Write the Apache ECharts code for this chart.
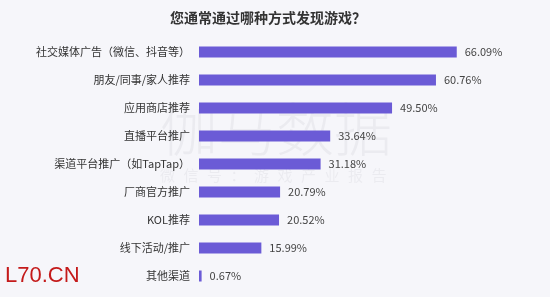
<!DOCTYPE html>
<html>
<head>
<meta charset="utf-8">
<script src="https://cdn.jsdelivr.net/npm/echarts@6/dist/echarts.min.js"></script>
<style>
  html, body { margin: 0; padding: 0; background: #f6f6fa; }
  #chart { width: 550px; height: 297px; }
</style>
</head>
<body>
<div id="chart"></div>
<script>
const categories = [
  '社交媒体广告（微信、抖音等）',
  '朋友/同事/家人推荐',
  '应用商店推荐',
  '直播平台推广',
  '渠道平台推广（如TapTap）',
  '厂商官方推广',
  'KOL推荐',
  '线下活动/推广',
  '其他渠道'
];
const values = [66.09, 60.76, 49.50, 33.64, 31.18, 20.79, 20.52, 15.99, 0.67];

const font = '"Noto Sans CJK SC", "Noto Sans", sans-serif';
const wmColor = 'rgba(130,130,145,0.09)';
const chart = echarts.init(document.getElementById('chart'));

// watermark letters, spread out
const mark = '微信号：游戏产业报告'.split('').map((ch, i) => ({
  type: 'text', left: 160 + i * 23.5, top: 168, z: 0, silent: true,
  style: { text: ch, fontFamily: font, fontSize: 15, fill: wmColor }
}));

chart.setOption({
  backgroundColor: '#f6f6fa',
  animation: false,
  title: {
    text: '您通常通过哪种方式发现游戏？',
    left: 263,
    top: 6,
    textAlign: 'center',
    textStyle: { fontFamily: font, fontSize: 14, fontWeight: 'bold', color: '#333' }
  },
  graphic: [
    {
      type: 'text', left: 160, top: 100, z: 0, silent: true,
      style: { text: '伽马数据', fontFamily: font, fontSize: 58, fontWeight: 300, fill: wmColor }
    },
    ...mark,
    {
      type: 'text', left: 5, top: 265,
      style: { text: 'L70.CN', fontFamily: 'Liberation Sans, Arial, sans-serif', fontSize: 22, fill: '#c41a1a' }
    }
  ],
  grid: { left: 199, width: 312, top: 38, bottom: 7, containLabel: false },
  xAxis: {
    type: 'value', min: 0, max: 80, show: false
  },
  yAxis: {
    type: 'category',
    data: categories.slice().reverse(),
    axisLine: { show: false },
    axisTick: { show: false },
    axisLabel: { fontFamily: font, fontSize: 11, color: '#333', margin: 9 }
  },
  series: [{
    type: 'bar',
    data: values.slice().reverse(),
    barWidth: 11,
    itemStyle: { color: '#6b5bd6' },
    label: {
      show: true,
      position: 'right',
      distance: 8,
      formatter: p => p.value.toFixed(2) + '%',
      fontFamily: font,
      fontSize: 11,
      color: '#444'
    }
  }]
});
</script>
</body>
</html>
